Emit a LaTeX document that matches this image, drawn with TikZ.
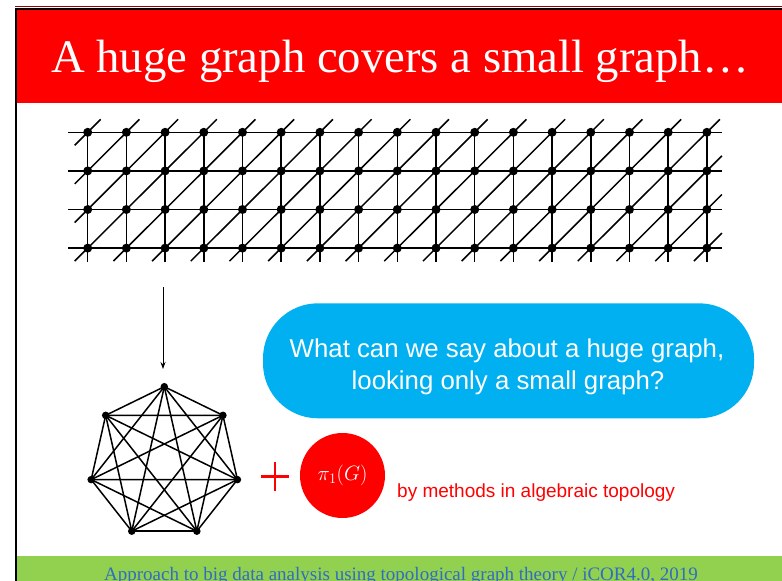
\documentclass[tikz,border=0pt]{standalone}
\usepackage{fontspec}
\setmainfont{Liberation Serif}
\newfontfamily\arialfont{Liberation Sans}
\usetikzlibrary{arrows.meta}
\definecolor{hdrred}{RGB}{255,0,0}
\definecolor{bubble}{RGB}{0,176,240}
\definecolor{footgreen}{RGB}{146,208,80}
\definecolor{foottext}{RGB}{46,110,190}
\tikzset{
  gdot/.style={circle,fill=black,inner sep=0pt,minimum size=9pt},
  hdot/.style={circle,fill=black,inner sep=0pt,minimum size=7.5pt},
  gline/.style={line width=1.5pt,black},
  hline/.style={line width=1.5pt,black},
}
\begin{document}
\begin{tikzpicture}[x=1pt,y=-1pt]
\useasboundingbox (0,0) rectangle (782,581);
\fill[white] (0,0) rectangle (782,581);
% header
\fill[hdrred] (17,9.5) rectangle (782,103);
\draw[line width=0.8pt,red!60!black] (15,6.6) -- (782,6.6);
\draw[line width=2pt,black] (16,581) -- (16,8.5) -- (782,8.5);
\node[anchor=base west,inner sep=0pt,text=white,font=\fontsize{46.7}{56}\selectfont] (title) at (51,72) {A huge graph covers a small graph…};
% grid nodes
\foreach \i in {0,...,16}{
  \foreach \j in {0,...,3}{
    \node[gdot] (n-\i-\j) at ({87.7+38.7*\i},{132.3+38.6*\j}) {};
  }
}
% horizontal lines
\foreach \j in {0,...,3}{
  \coordinate (hl-\j) at (68,{132.3+38.6*\j});
  \coordinate (hr-\j) at (722,{132.3+38.6*\j});
  \draw[gline] (hl-\j) -- (hr-\j);
}
% vertical lines
\foreach \i in {0,...,16}{
  \coordinate (vb-\i) at ({87.7+38.7*\i},262);
  \draw[gline] (n-\i-0.center) -- (vb-\i);
}
% diagonals
\foreach \i in {0,...,15}{
  \foreach \j in {1,2,3}{
    \pgfmathtruncatemacro{\ip}{\i+1}
    \pgfmathtruncatemacro{\jm}{\j-1}
    \draw[gline] (n-\i-\j.center) -- (n-\ip-\jm.center);
  }
}
% stubs
\foreach \i in {0,...,16}{
  \draw[gline] (n-\i-0.center) -- ++(13,-13);
  \draw[gline] (n-\i-3.center) -- ++(-13,13);
}
\foreach \j in {1,2,3}{
  \draw[gline] (n-16-\j.center) -- ++(15,-15);
}
\foreach \j in {0,1,2}{
  \draw[gline] (n-0-\j.center) -- ++(-13,13);
}
% arrow
\coordinate (a1) at (163,287);
\coordinate (a2) at (163,369);
\draw[line width=0.8pt,-{Stealth[length=7pt,width=5pt]}] (a1) -- (a2);
% heptagon K7
\foreach \k in {0,...,6}{
  \node[hdot] (h\k) at ({164.3+75*cos(90+\k*360/7)},{462.7-76*sin(90+\k*360/7)}) {};
}
\foreach \a in {0,...,6}{
  \foreach \b in {0,...,6}{
    \ifnum\a<\b \draw[hline] (h\a.center) -- (h\b.center);\fi
  }
}
% bubble
\node[fill=bubble,rounded corners=55pt,minimum width=491pt,minimum height=115pt,inner sep=0pt] (bub) at (508.5,360.8) {};
\node[anchor=base,inner sep=0pt,text=white,font=\arialfont\fontsize{25.8}{30}\selectfont] (q1) at (507,357) {What can we say about a huge graph,};
\node[anchor=base,inner sep=0pt,text=white,font=\arialfont\fontsize{25.8}{30}\selectfont] (q2) at (508,389) {looking only a small graph?};
% plus
\coordinate (p1) at (261,476.5);
\coordinate (p2) at (289,476.5);
\coordinate (p3) at (275,462);
\coordinate (p4) at (275,491);
\draw[hdrred,line width=2.6pt] (p1) -- (p2);
\draw[hdrred,line width=2.6pt] (p3) -- (p4);
% pi circle
\node[circle,fill=hdrred,minimum size=85pt,inner sep=0pt,text=white,font=\fontsize{20}{24}\selectfont] (pi) at (342.5,475.5) {$\pi_1(G)$};
\node[anchor=base west,inner sep=0pt,text=hdrred,font=\arialfont\fontsize{19}{22}\selectfont] (meth) at (397,497) {by methods in algebraic topology};
% footer
\fill[footgreen] (17,556) rectangle (782,581);
\node[anchor=base,inner sep=0pt,text=foottext,font=\fontsize{19}{22}\selectfont] (foot) at (401,580.5) {Approach to big data analysis using topological graph theory / iCOR4.0, 2019};
\end{tikzpicture}
\end{document}
